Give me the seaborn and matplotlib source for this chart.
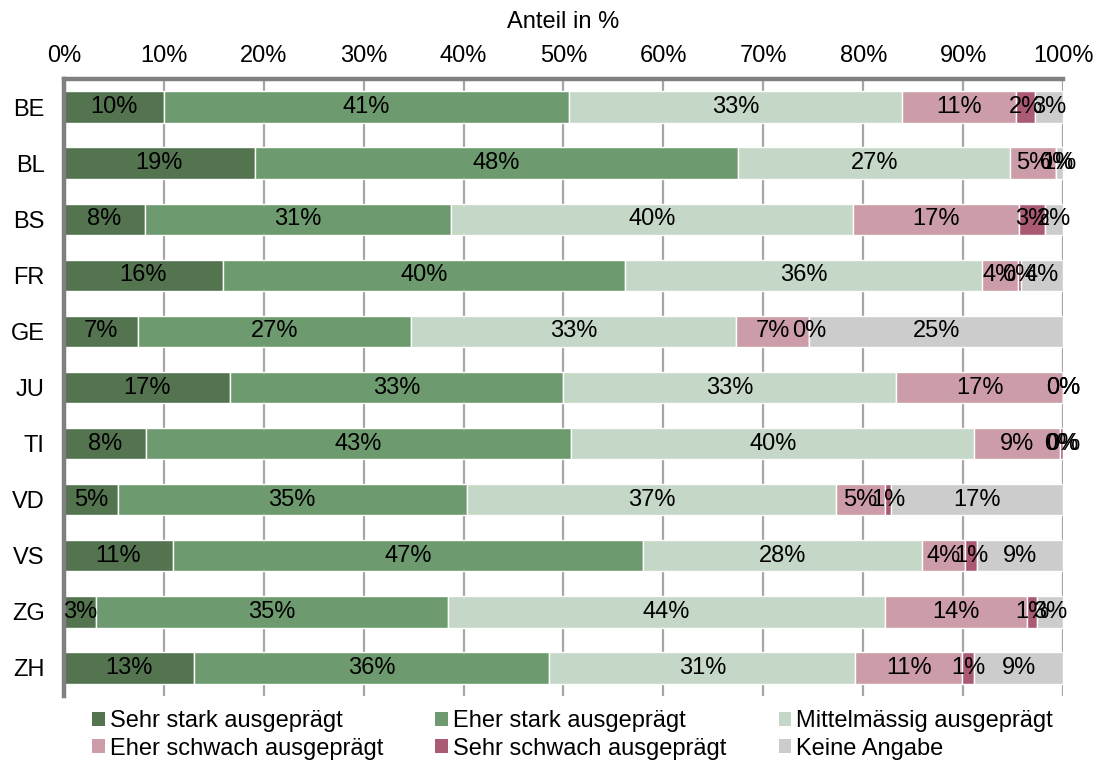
import matplotlib
matplotlib.use("Agg")
import matplotlib.pyplot as plt
from matplotlib.patches import Patch
from matplotlib.ticker import MultipleLocator, PercentFormatter
import numpy as np
import seaborn as sns

# Kantone (oben nach unten)
cantons = ["BE", "BL", "BS", "FR", "GE", "JU", "TI", "VD", "VS", "ZG", "ZH"]

categories = [
    "Sehr stark ausgeprägt",
    "Eher stark ausgeprägt",
    "Mittelmässig ausgeprägt",
    "Eher schwach ausgeprägt",
    "Sehr schwach ausgeprägt",
    "Keine Angabe",
]

# Anteile in %
sehr_stark   = [10.0, 19.1, 8.1, 15.9, 7.4, 16.67, 8.2, 5.4, 10.9, 3.2, 13.0]
eher_stark   = [40.6, 48.4, 30.6, 40.3, 27.3, 33.33, 42.6, 34.9, 47.1, 35.2, 35.6]
mittel       = [33.3, 27.2, 40.3, 35.7, 32.6, 33.33, 40.3, 37.0, 27.9, 43.8, 30.6]
eher_schwach = [11.4, 4.6, 16.6, 3.6, 7.3, 16.67, 8.6, 4.9, 4.3, 14.2, 10.7]
sehr_schwach = [1.9, 0.0, 2.6, 0.3, 0.0, 0.0, 0.3, 0.6, 1.2, 1.0, 1.2]
keine_angabe = [2.8, 0.7, 1.8, 4.2, 25.4, 0.0, 0.0, 17.2, 8.6, 2.6, 8.9]

series = [sehr_stark, eher_stark, mittel, eher_schwach, sehr_schwach, keine_angabe]
colors = ["#53744F", "#6D9A6E", "#C5D7C7", "#CC9DA9", "#AA5A72", "#CCCCCC"]

sns.set_theme(style="white")
plt.rcParams["font.family"] = ["Liberation Sans", "DejaVu Sans"]
plt.rcParams["text.color"] = "black"
plt.rcParams["axes.labelcolor"] = "black"
plt.rcParams["xtick.color"] = "black"
plt.rcParams["ytick.color"] = "black"
palette = sns.color_palette(colors)

FS = 17
fig = plt.figure(figsize=(10.95, 7.6), dpi=100)
ax = fig.add_axes([0.0584, 0.0842, 0.9124, 0.8118])

ypos = np.arange(len(cantons))
left = np.zeros(len(cantons))
for name, vals, col in zip(categories, series, palette):
    vals = np.asarray(vals, dtype=float)
    bars = ax.barh(ypos, vals, left=left, height=0.56, color=col,
                   label=name, zorder=2)
    ax.bar_label(bars, labels=[f"{v:.0f}%" for v in vals],
                 label_type="center", fontsize=FS, color="black")
    left += vals

ax.set_xlim(0, 100)
ax.set_ylim(len(cantons) - 0.5, -0.5)
ax.set_yticks(ypos)
ax.set_yticklabels(cantons)

ax.xaxis.tick_top()
ax.xaxis.set_label_position("top")
ax.xaxis.set_major_locator(MultipleLocator(10))
ax.xaxis.set_major_formatter(PercentFormatter(decimals=0))
ax.set_xlabel("Anteil in %", fontsize=FS, labelpad=12)

ax.tick_params(axis="x", length=0, pad=9, labelsize=FS)
ax.tick_params(axis="y", length=0, pad=14, labelsize=FS)

ax.grid(axis="x", color="#A6A6A6", linewidth=1.6, zorder=0)
ax.grid(axis="y", visible=False)
ax.set_axisbelow(True)

for side in ("right", "bottom"):
    ax.spines[side].set_visible(False)
for side in ("top", "left"):
    ax.spines[side].set_color("#808080")
    ax.spines[side].set_linewidth(3.2)

handles = [Patch(facecolor=c, edgecolor="none", label=n)
           for c, n in zip(palette, categories)]
order = [0, 3, 1, 4, 2, 5]
fig.legend([handles[i] for i in order], [categories[i] for i in order],
           ncol=3, loc="lower left", bbox_to_anchor=(0.0758, -0.012),
           frameon=False, fontsize=FS, handlelength=0.55, handleheight=0.55,
           handletextpad=0.2, columnspacing=2.2, labelspacing=0.22,
           borderaxespad=0.0)

fig.savefig("out.png", dpi=100)
